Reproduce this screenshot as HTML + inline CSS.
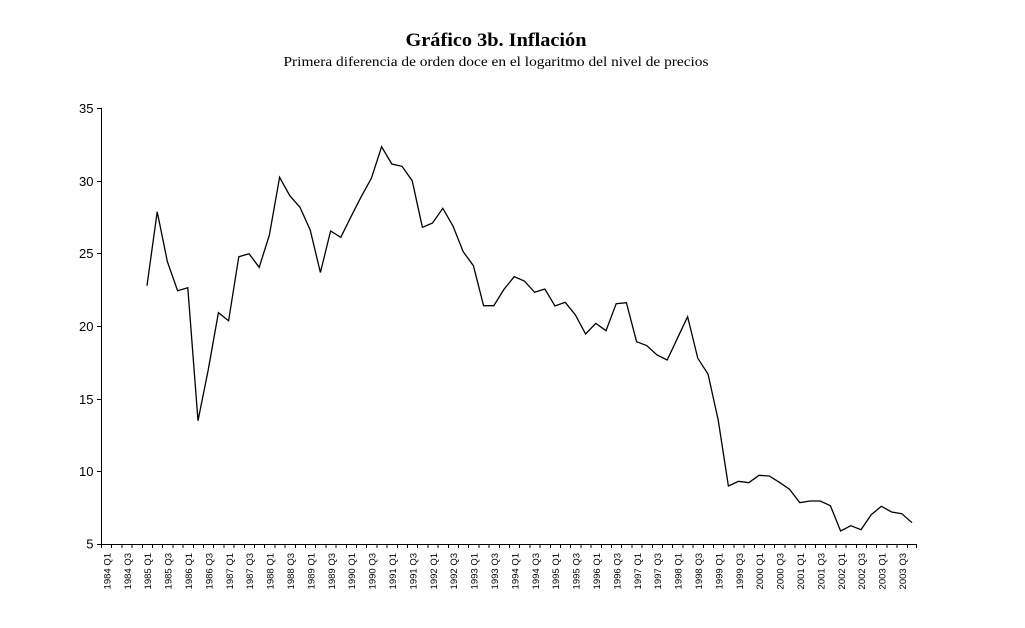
<!DOCTYPE html>
<html>
<head>
<meta charset="utf-8">
<style>
  html, body { margin: 0; padding: 0; background: #fff; }
  svg { display: block; }
</style>
</head>
<body>
<svg width="1025" height="628" viewBox="0 0 1025 628" xmlns="http://www.w3.org/2000/svg">
  <rect width="1025" height="628" fill="#fff"/>
  <!-- Titles -->
  <text x="496" y="46" text-anchor="middle" font-family="Liberation Serif, serif" font-weight="bold" font-size="19" textLength="181" lengthAdjust="spacingAndGlyphs" fill="#000">Gráfico 3b. Inflación</text>
  <text x="496" y="66" text-anchor="middle" font-family="Liberation Serif, serif" font-size="14" textLength="425" lengthAdjust="spacingAndGlyphs" fill="#000">Primera diferencia de orden doce en el logaritmo del nivel de precios</text>

  <!-- Axes -->
  <g stroke="#000" stroke-width="1" fill="none" shape-rendering="crispEdges">
    <line x1="101.5" y1="108" x2="101.5" y2="544.5"/>
    <line x1="101" y1="544.5" x2="917" y2="544.5"/>
    <!-- y ticks -->
    <line x1="97" y1="108.5" x2="101" y2="108.5"/>
    <line x1="97" y1="181.5" x2="101" y2="181.5"/>
    <line x1="97" y1="253.5" x2="101" y2="253.5"/>
    <line x1="97" y1="326.5" x2="101" y2="326.5"/>
    <line x1="97" y1="399.5" x2="101" y2="399.5"/>
    <line x1="97" y1="471.5" x2="101" y2="471.5"/>
    <line x1="97" y1="544.5" x2="101" y2="544.5"/>
  </g>

  <!-- Y labels -->
  <g font-family="Liberation Sans, Arial, sans-serif" font-size="13" text-anchor="end" fill="#000">
    <text x="93.5" y="113">35</text>
    <text x="93.5" y="186">30</text>
    <text x="93.5" y="258">25</text>
    <text x="93.5" y="331">20</text>
    <text x="93.5" y="404">15</text>
    <text x="93.5" y="476">10</text>
    <text x="93.5" y="548.5">5</text>
  </g>

  <!-- X labels -->
  <g font-family="Liberation Sans, Arial, sans-serif" font-size="9.5" text-anchor="end" fill="#000">
    <text transform="translate(110.4,553) rotate(-90)">1984 Q1</text>
    <text transform="translate(130.8,553) rotate(-90)">1984 Q3</text>
    <text transform="translate(151.2,553) rotate(-90)">1985 Q1</text>
    <text transform="translate(171.6,553) rotate(-90)">1985 Q3</text>
    <text transform="translate(192.0,553) rotate(-90)">1986 Q1</text>
    <text transform="translate(212.4,553) rotate(-90)">1986 Q3</text>
    <text transform="translate(232.8,553) rotate(-90)">1987 Q1</text>
    <text transform="translate(253.2,553) rotate(-90)">1987 Q3</text>
    <text transform="translate(273.6,553) rotate(-90)">1988 Q1</text>
    <text transform="translate(294.0,553) rotate(-90)">1988 Q3</text>
    <text transform="translate(314.4,553) rotate(-90)">1989 Q1</text>
    <text transform="translate(334.8,553) rotate(-90)">1989 Q3</text>
    <text transform="translate(355.2,553) rotate(-90)">1990 Q1</text>
    <text transform="translate(375.6,553) rotate(-90)">1990 Q3</text>
    <text transform="translate(396.0,553) rotate(-90)">1991 Q1</text>
    <text transform="translate(416.4,553) rotate(-90)">1991 Q3</text>
    <text transform="translate(436.8,553) rotate(-90)">1992 Q1</text>
    <text transform="translate(457.2,553) rotate(-90)">1992 Q3</text>
    <text transform="translate(477.6,553) rotate(-90)">1993 Q1</text>
    <text transform="translate(498.0,553) rotate(-90)">1993 Q3</text>
    <text transform="translate(518.4,553) rotate(-90)">1994 Q1</text>
    <text transform="translate(538.8,553) rotate(-90)">1994 Q3</text>
    <text transform="translate(559.2,553) rotate(-90)">1995 Q1</text>
    <text transform="translate(579.6,553) rotate(-90)">1995 Q3</text>
    <text transform="translate(600.0,553) rotate(-90)">1996 Q1</text>
    <text transform="translate(620.4,553) rotate(-90)">1996 Q3</text>
    <text transform="translate(640.8,553) rotate(-90)">1997 Q1</text>
    <text transform="translate(661.2,553) rotate(-90)">1997 Q3</text>
    <text transform="translate(681.6,553) rotate(-90)">1998 Q1</text>
    <text transform="translate(702.0,553) rotate(-90)">1998 Q3</text>
    <text transform="translate(722.4,553) rotate(-90)">1999 Q1</text>
    <text transform="translate(742.8,553) rotate(-90)">1999 Q3</text>
    <text transform="translate(763.2,553) rotate(-90)">2000 Q1</text>
    <text transform="translate(783.6,553) rotate(-90)">2000 Q3</text>
    <text transform="translate(804.0,553) rotate(-90)">2001 Q1</text>
    <text transform="translate(824.4,553) rotate(-90)">2001 Q3</text>
    <text transform="translate(844.8,553) rotate(-90)">2002 Q1</text>
    <text transform="translate(865.2,553) rotate(-90)">2002 Q3</text>
    <text transform="translate(885.6,553) rotate(-90)">2003 Q1</text>
    <text transform="translate(906.0,553) rotate(-90)">2003 Q3</text>
  </g>

  <!-- X ticks (category boundaries, every 10.2px) -->
  <path stroke="#000" stroke-width="1" fill="none" shape-rendering="crispEdges" d="
    M101.5 544V548 M111.7 544V548 M121.9 544V548 M132.1 544V548 M142.3 544V548 M152.5 544V548 M162.7 544V548 M172.9 544V548
    M183.1 544V548 M193.3 544V548 M203.5 544V548 M213.7 544V548 M223.9 544V548 M234.1 544V548 M244.3 544V548 M254.5 544V548
    M264.7 544V548 M274.9 544V548 M285.1 544V548 M295.3 544V548 M305.5 544V548 M315.7 544V548 M325.9 544V548 M336.1 544V548
    M346.3 544V548 M356.5 544V548 M366.7 544V548 M376.9 544V548 M387.1 544V548 M397.3 544V548 M407.5 544V548 M417.7 544V548
    M427.9 544V548 M438.1 544V548 M448.3 544V548 M458.5 544V548 M468.7 544V548 M478.9 544V548 M489.1 544V548 M499.3 544V548
    M509.5 544V548 M519.7 544V548 M529.9 544V548 M540.1 544V548 M550.3 544V548 M560.5 544V548 M570.7 544V548 M580.9 544V548
    M591.1 544V548 M601.3 544V548 M611.5 544V548 M621.7 544V548 M631.9 544V548 M642.1 544V548 M652.3 544V548 M662.5 544V548
    M672.7 544V548 M682.9 544V548 M693.1 544V548 M703.3 544V548 M713.5 544V548 M723.7 544V548 M733.9 544V548 M744.1 544V548
    M754.3 544V548 M764.5 544V548 M774.7 544V548 M784.9 544V548 M795.1 544V548 M805.3 544V548 M815.5 544V548 M825.7 544V548
    M835.9 544V548 M846.1 544V548 M856.3 544V548 M866.5 544V548 M876.7 544V548 M886.9 544V548 M897.1 544V548 M907.3 544V548
    M916.5 544V548"/>

  <!-- Series -->
  <polyline fill="none" stroke="#000" stroke-width="1.3" stroke-linejoin="miter" points="
    147.0,285.7 157.2,211.7 167.4,261.7 177.6,290.7 187.8,287.7 198.0,420.7 208.2,370 218.4,312.7
    228.6,320.7 238.8,256.7 249.0,253.7 259.2,267.3 269.4,235 279.6,177.3 289.8,195.7 300.0,207.3
    310.2,230 320.4,272.5 330.6,231 340.8,237.3 351.0,216.7 361.2,196.7 371.4,178.3 381.6,146.7
    391.8,164 402.0,166.3 412.2,180.7 422.4,227.3 432.6,223 442.8,208.3 453.0,226 463.2,251.7
    473.4,265.7 483.6,305.7 493.8,305.7 504.0,289.3 514.2,276.7 524.4,281 534.6,292.3 544.8,289
    555.0,306 565.2,302.3 575.4,315 585.6,334 595.8,323.3 606.0,330.7 616.2,303.7 626.4,302.7
    636.6,341.7 646.8,345.7 657.0,355 667.2,360 677.4,338.3 687.6,316.7 697.8,358.3 708.0,374
    718.2,420 728.4,486 738.6,481.3 748.8,482.7 759.0,475.3 769.2,476 779.4,482.3 789.6,489.3
    799.8,502.7 810.0,501 820.2,501 830.4,505.7 840.6,531 850.8,525.7 861.0,529.7 871.2,514.7
    881.4,506.3 891.6,512 901.8,513.7 912.0,522.7"/>
</svg>
</body>
</html>
